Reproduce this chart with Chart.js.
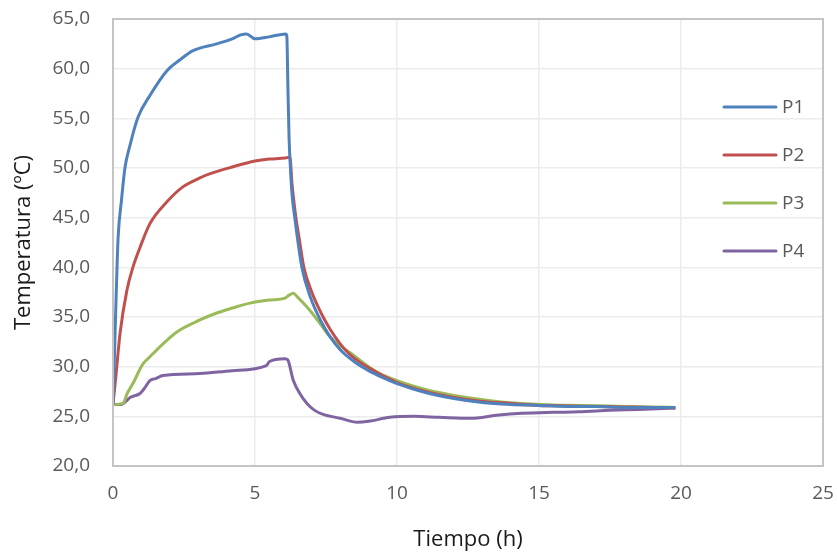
<!DOCTYPE html>
<html>
<head>
<meta charset="utf-8">
<script src="https://cdn.jsdelivr.net/npm/chart.js@4/dist/chart.umd.min.js"></script>
<style>
  html, body { margin: 0; padding: 0; background: #ffffff; }
  #wrap { width: 837px; height: 554px; }
</style>
</head>
<body>
<div id="wrap"><canvas id="tempChart" width="837" height="554"></canvas></div>
<script>
// Series names and colours (Excel palette)
const seriesNames = ["P1", "P2", "P3", "P4"];
const seriesColors = ["#4f81bd", "#c0504d", "#9bbb59", "#8064a2"];

// Axis ticks
const xTicks = [0, 5, 10, 15, 20, 25];
const yTicks = [20, 25, 30, 35, 40, 45, 50, 55, 60, 65];

// P1 - time (h) / temperature (ºC)
const p1Time = [0, 0.03, 0.07, 0.12, 0.18, 0.3, 0.42, 0.6, 0.88, 1.3, 1.9, 2.36, 2.8, 3.65, 4.2, 4.5, 4.7, 5.0, 5.5, 6.08,
  6.12, 6.16, 6.2, 6.24, 6.3, 6.4, 6.65, 6.95, 7.3, 7.6, 8.0, 8.5, 9.0, 9.5, 10, 11, 12, 13, 14, 15, 16, 17, 18, 19, 19.8];
const p1Temp = [26.2, 29, 33, 38, 43, 46.8, 50.0, 52.3, 55.1, 57.3, 59.8, 60.9, 61.8, 62.5, 63.0, 63.4, 63.5, 63.0, 63.2, 63.5,
  63.3, 58.0, 53.0, 50.4, 47.5, 45.0, 40.0, 37.0, 34.7, 33.2, 31.7, 30.5, 29.6, 28.9, 28.3, 27.4, 26.8, 26.4, 26.2, 26.1, 26.0, 26.0, 25.9, 25.9, 25.9];

// P2
const p2Time = [0, 0.1, 0.25, 0.49, 0.7, 0.95, 1.3, 1.9, 2.46, 3.06, 3.4, 4.2, 5.0, 5.5, 6.06, 6.23,
  6.3, 6.44, 6.55, 6.72, 7.0, 7.4, 7.64, 8.0, 8.35, 9.05, 10, 11, 12, 13, 14, 15, 16, 17, 18, 19, 19.8];
const p2Temp = [26.2, 29.0, 33.4, 37.7, 40.0, 42.0, 44.4, 46.6, 48.1, 49.0, 49.4, 50.1, 50.7, 50.9, 51.0, 51.1,
  48.5, 45.0, 43.0, 40.0, 37.5, 35.0, 33.8, 32.3, 31.2, 29.8, 28.4, 27.5, 26.9, 26.5, 26.3, 26.1, 26.05, 26.0, 25.95, 25.9, 25.85];

// P3
const p3Time = [0, 0.35, 0.5, 0.7, 1.06, 1.3, 1.65, 2.25, 3.06, 3.65, 4.2, 4.82, 5.5, 6.06, 6.2, 6.35,
  6.5, 6.83, 7.2, 7.64, 8.0, 8.35, 9.0, 9.4, 10, 11, 12, 12.7, 13.5, 14.4, 15.5, 16.4, 18, 19, 19.8];
const p3Temp = [26.2, 26.3, 27.3, 28.3, 30.3, 31.0, 32.0, 33.5, 34.7, 35.4, 35.9, 36.4, 36.7, 36.9, 37.2, 37.4,
  37.0, 36.0, 34.7, 33.0, 32.1, 31.4, 30.0, 29.3, 28.6, 27.7, 27.1, 26.8, 26.5, 26.3, 26.15, 26.1, 26.0, 25.95, 25.9];

// P4
const p4Time = [0, 0.3, 0.45, 0.6, 0.95, 1.1, 1.3, 1.5, 1.76, 3.06, 4.2, 5.4, 5.5, 6.06, 6.15,
  6.35, 6.6, 6.83, 7.1, 7.4, 8.0, 8.6, 9.0, 9.75, 10.6, 11.5, 12.6, 13.5, 14.4, 15.5, 16.4, 17.5, 18.5, 19.8];
const p4Temp = [26.2, 26.2, 26.5, 26.9, 27.3, 27.8, 28.6, 28.8, 29.1, 29.3, 29.6, 30.1, 30.5, 30.8, 30.7,
  28.6, 27.2, 26.3, 25.6, 25.2, 24.8, 24.4, 24.5, 24.9, 25.0, 24.9, 24.8, 25.1, 25.3, 25.4, 25.45, 25.6, 25.7, 25.85];

const allTimes = [p1Time, p2Time, p3Time, p4Time];
const allTemps = [p1Temp, p2Temp, p3Temp, p4Temp];

const FONT = "'Open Sans', 'DejaVu Sans', sans-serif";
const TICK_COLOR = "#595959";

// Draw the box around the plot area
const plotBorder = {
  id: "plotBorder",
  afterDraw(chart) {
    const a = chart.chartArea;
    const ctx = chart.ctx;
    ctx.save();
    ctx.strokeStyle = "#c4c4c4";
    ctx.lineWidth = 2;
    ctx.strokeRect(a.left, a.top, a.right - a.left, a.bottom - a.top);
    ctx.restore();
  }
};

// Excel style legend inside the right part of the plot
const sideLegend = {
  id: "sideLegend",
  afterDraw(chart) {
    const ctx = chart.ctx;
    ctx.save();
    ctx.font = "19px " + FONT;
    ctx.textBaseline = "middle";
    ctx.textAlign = "left";
    chart.data.datasets.forEach((ds, i) => {
      const y = 107 + i * 48;
      ctx.strokeStyle = ds.borderColor;
      ctx.lineWidth = 3;
      ctx.lineCap = "round";
      ctx.beginPath();
      ctx.moveTo(724, y);
      ctx.lineTo(776, y);
      ctx.stroke();
      ctx.fillStyle = TICK_COLOR;
      ctx.fillText(ds.label, 782, y + 1);
    });
    ctx.restore();
  }
};

const datasets = seriesNames.map((name, i) => ({
  label: name,
  data: allTimes[i].map((t, j) => ({ x: t, y: allTemps[i][j] })),
  borderColor: seriesColors[i],
  backgroundColor: seriesColors[i],
  borderWidth: 3,
  pointRadius: 0,
  tension: 0.3,
  cubicInterpolationMode: "monotone",
  fill: false
}));

const ctx = document.getElementById("tempChart").getContext("2d");
new Chart(ctx, {
  type: "line",
  data: { datasets: datasets },
  options: {
    responsive: false,
    animation: false,
    layout: { padding: 0 },
    plugins: {
      legend: { display: false },
      tooltip: { enabled: false }
    },
    scales: {
      x: {
        type: "linear",
        min: 0,
        max: 25,
        afterBuildTicks: axis => { axis.ticks = xTicks.map(v => ({ value: v })); },
        afterFit: axis => {
          axis.height = 88;
          axis.paddingLeft = 0;
          axis.paddingRight = 14;
        },
        ticks: {
          color: TICK_COLOR,
          font: { family: FONT, size: 19 },
          padding: 16,
          maxRotation: 0,
          callback: v => String(v)
        },
        grid: { color: "#ececec", lineWidth: 1.5, drawTicks: false },
        border: { display: false },
        title: {
          display: true,
          text: "Tiempo (h)",
          color: "#1a1a1a",
          font: { family: FONT, size: 22 },
          padding: { top: 0, bottom: 1 }
        }
      },
      y: {
        min: 20,
        max: 65,
        afterBuildTicks: axis => { axis.ticks = yTicks.map(v => ({ value: v })); },
        afterFit: axis => {
          axis.width = 113;
          axis.paddingTop = 19;
          axis.paddingBottom = 0;
        },
        ticks: {
          color: TICK_COLOR,
          font: { family: FONT, size: 19 },
          padding: 23,
          callback: v => v.toFixed(1).replace(".", ",")
        },
        grid: { color: "#ececec", lineWidth: 1.5, drawTicks: false },
        border: { display: false },
        title: {
          display: true,
          text: "Temperatura (ºC)",
          color: "#1a1a1a",
          font: { family: FONT, size: 22 },
          padding: { top: 11, bottom: 0 }
        }
      }
    }
  },
  plugins: [plotBorder, sideLegend]
});
</script>
</body>
</html>
